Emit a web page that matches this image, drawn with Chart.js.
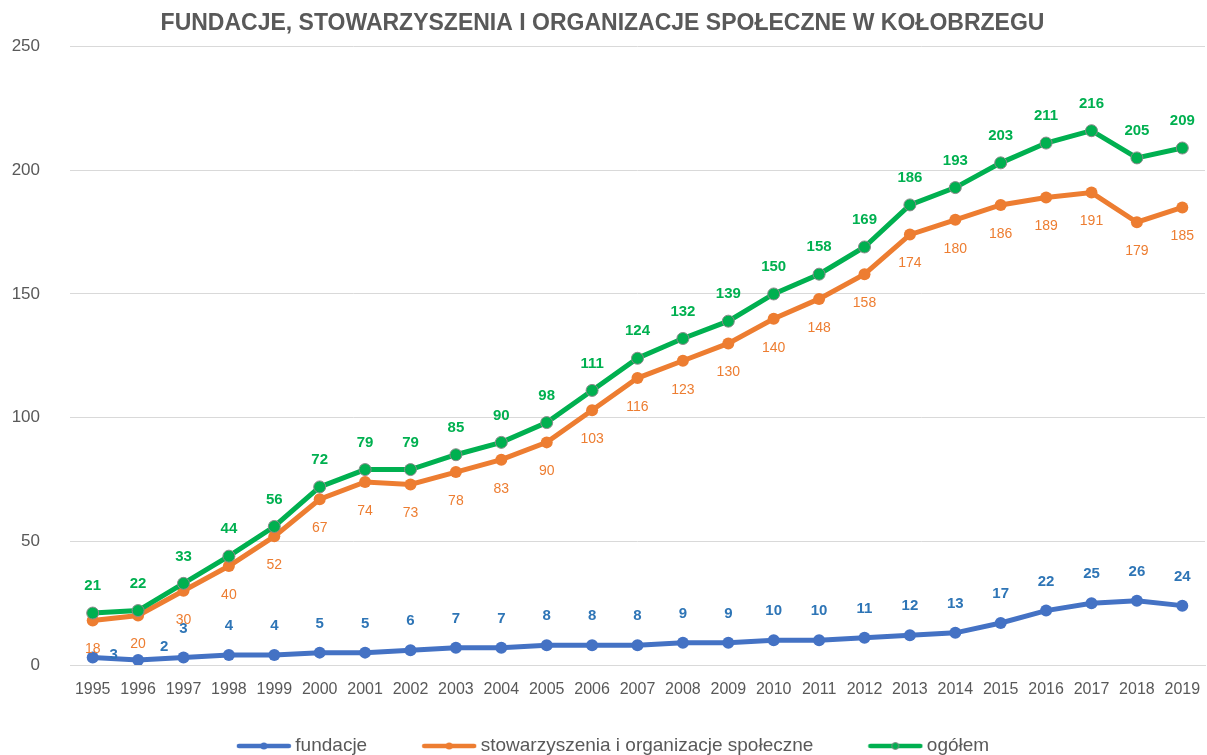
<!DOCTYPE html>
<html>
<head>
<meta charset="utf-8">
<script src="https://cdn.jsdelivr.net/npm/chart.js@4/dist/chart.umd.min.js"></script>
<style>
html,body{margin:0;padding:0;background:#fff;}
#wrap{width:1207px;height:755px;}
</style>
</head>
<body>
<div id="wrap"><canvas id="c" width="1207" height="755"></canvas></div>
<script>
const years = ['1995','1996','1997','1998','1999','2000','2001','2002','2003','2004','2005','2006','2007','2008','2009','2010','2011','2012','2013','2014','2015','2016','2017','2018','2019'];
const fundacje = [3,2,3,4,4,5,5,6,7,7,8,8,8,9,9,10,10,11,12,13,17,22,25,26,24];
const stowarzyszenia = [18,20,30,40,52,67,74,73,78,83,90,103,116,123,130,140,148,158,174,180,186,189,191,179,185];
const ogolem = [21,22,33,44,56,72,79,79,85,90,98,111,124,132,139,150,158,169,186,193,203,211,216,205,209];
const seriesNames = ['fundacje','stowarzyszenia i organizacje społeczne','ogółem'];
const yTicks = [0,50,100,150,200,250];
const titleText = 'FUNDACJE, STOWARZYSZENIA I ORGANIZACJE SPOŁECZNE W KOŁOBRZEGU';

const FONT = "'Liberation Sans', 'DejaVu Sans', sans-serif";
const GREY = '#595959';
const LEGEND_PAD = 60;
const LEGEND_FONT = 19;

function legendIcon(color, border) {
  const c = document.createElement('canvas');
  c.width = 56; c.height = 12;
  const x = c.getContext('2d');
  x.strokeStyle = color; x.lineWidth = 4.5; x.lineCap = 'round';
  x.beginPath(); x.moveTo(3,6); x.lineTo(53,6); x.stroke();
  x.fillStyle = color; x.beginPath(); x.arc(28,6,3.5,0,Math.PI*2); x.fill();
  if (border) { x.strokeStyle = border; x.lineWidth = 1; x.stroke(); }
  return c;
}

const labelCfg = [
  {color:'#2E75B6', dy:-29, font:'bold 15px ', special:{0:[21,-3],1:[26,-13]}},
  {color:'#ED7D31', dy:29, font:'14px ', special:{}},
  {color:'#00B050', dy:-27, font:'bold 15px ', special:{}}
];

const dataLabels = {
  id:'dataLabels',
  afterDatasetsDraw(chart){
    const ctx = chart.ctx;
    ctx.save();
    ctx.textAlign='center'; ctx.textBaseline='middle';
    chart.data.datasets.forEach((ds,di)=>{
      const cfg = labelCfg[di];
      const meta = chart.getDatasetMeta(di);
      ctx.fillStyle = cfg.color;
      ctx.font = cfg.font + FONT;
      meta.data.forEach((pt,i)=>{
        let dx = 0, dy = cfg.dy;
        if (cfg.special[i]) { dx = cfg.special[i][0]; dy = cfg.special[i][1]; }
        ctx.fillText(String(ds.data[i]), pt.x+dx, pt.y+dy);
      });
    });
    ctx.restore();
  }
};

const legendPlacer = {
  id:'legendPlacer',
  beforeUpdate(chart){
    const lg = chart.legend;
    if (lg && !lg._patched) {
      const f = lg.fit.bind(lg);
      lg.fit = function(){ f(); this.height = 55; };
      lg._patched = true;
    }
  },
  afterLayout(chart){
    const lg = chart.legend;
    if (!lg) return;
    const itemH = LEGEND_FONT;
    lg.top = 746 - LEGEND_PAD - itemH/2;
    lg.bottom = 760;
    lg.height = lg.bottom - lg.top;
    lg.left += 13; lg.right += 13;
  }
};

new Chart(document.getElementById('c'), {
  type:'line',
  data:{
    labels: years,
    datasets:[
      {label:seriesNames[0], data:fundacje, order:2, borderColor:'#4472C4', backgroundColor:'#4472C4', borderWidth:5, pointRadius:6, pointBorderWidth:0, pointBackgroundColor:'#4472C4', tension:0},
      {label:seriesNames[1], data:stowarzyszenia, order:1, borderColor:'#ED7D31', backgroundColor:'#ED7D31', borderWidth:5, pointRadius:6, pointBorderWidth:0, pointBackgroundColor:'#ED7D31', tension:0},
      {label:seriesNames[2], data:ogolem, order:0, borderColor:'#00B050', backgroundColor:'#00B050', borderWidth:5, pointRadius:6, pointBorderWidth:1, pointBorderColor:'#8a8a8a', pointBackgroundColor:'#00B050', tension:0}
    ]
  },
  options:{
    responsive:false, animation:false,
    layout:{autoPadding:false, padding:{left:0,right:2,top:0,bottom:0}},
    plugins:{
      title:{display:true, text:titleText, color:GREY, font:{family:FONT, size:23, weight:'bold'}, padding:{top:10,bottom:9}},
      legend:{display:true, position:'bottom',
        labels:{
          usePointStyle:true, pointStyleWidth:44, boxHeight:12, color:GREY,
          font:{family:FONT, size:LEGEND_FONT}, padding:LEGEND_PAD,
          generateLabels(chart){
            const icons=[legendIcon('#4472C4'),legendIcon('#ED7D31'),legendIcon('#00B050','#8a8a8a')];
            return chart.data.datasets.map((d,i)=>({text:d.label, pointStyle:icons[i], fillStyle:d.borderColor, strokeStyle:d.borderColor, lineWidth:0, fontColor:GREY, datasetIndex:i, hidden:false}));
          }
        }
      },
      tooltip:{enabled:false}
    },
    scales:{
      x:{offset:true,
        grid:{display:false, drawTicks:false},
        border:{display:true, color:'#d9d9d9', width:1},
        ticks:{color:GREY, font:{family:FONT, size:16}, padding:15, maxRotation:0, autoSkip:false},
        afterFit(s){ s.height = 35; s.paddingLeft = 0; s.paddingRight = 0; }
      },
      y:{min:0, max:250,
        afterBuildTicks(s){ s.ticks = yTicks.map(v=>({value:v})); },
        grid:{color:'#d9d9d9', drawTicks:false, lineWidth:1},
        border:{display:false},
        ticks:{color:GREY, font:{family:FONT, size:17}, padding:30},
        afterFit(s){ s.width = 70; }
      }
    }
  },
  plugins:[dataLabels, legendPlacer]
});
</script>
</body>
</html>
